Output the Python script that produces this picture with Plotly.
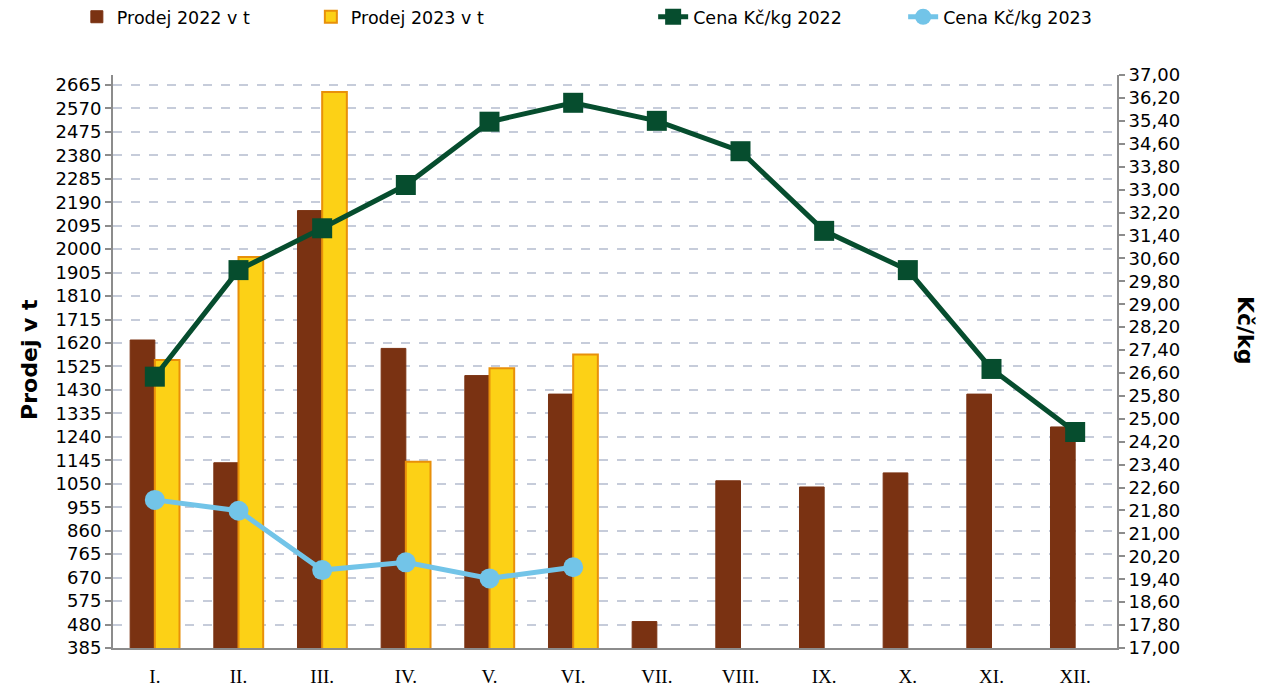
import plotly.graph_objects as go

months = ["I.", "II.", "III.", "IV.", "V.", "VI.", "VII.", "VIII.", "IX.", "X.", "XI.", "XII."]
prodej_2022 = [1632, 1135, 2156, 1598, 1488, 1413, 492, 1062, 1037, 1094, 1413, 1280]
prodej_2023 = [1551, 1968, 2636, 1139, 1518, 1573]
cena_2022 = [26.47, 30.19, 31.65, 33.16, 35.37, 36.03, 35.40, 34.34, 31.56, 30.19, 26.74, 24.54]
cena_2023 = [22.17, 21.79, 19.72, 19.99, 19.43, 19.82]

font_main = "DejaVu Sans, Verdana, sans-serif"

fig = go.Figure()
fig.add_trace(go.Bar(
    x=months, y=prodej_2022, name="Prodej 2022 v t",
    marker=dict(color="#7A3212", line=dict(color="#7A3212", width=1)),
    yaxis="y", legend="legend"))
fig.add_trace(go.Bar(
    x=months[:len(prodej_2023)], y=prodej_2023, name="Prodej 2023 v t",
    marker=dict(color="#FCD116", line=dict(color="#E8900A", width=2)),
    yaxis="y", legend="legend"))
fig.add_trace(go.Scatter(
    x=months, y=cena_2022, name="Cena Kč/kg 2022", mode="lines+markers",
    line=dict(color="#064D2E", width=5),
    marker=dict(symbol="square", size=20, color="#064D2E"),
    yaxis="y2", legend="legend2"))
fig.add_trace(go.Scatter(
    x=months[:len(cena_2023)], y=cena_2023, name="Cena Kč/kg 2023", mode="lines+markers",
    line=dict(color="#72C4E8", width=5),
    marker=dict(symbol="circle", size=20, color="#72C4E8"),
    yaxis="y2", legend="legend2"))

leg_common = dict(orientation="h", yref="container", y=0.987, yanchor="middle",
                  xanchor="left", font=dict(size=17.5, family=font_main),
                  traceorder="normal", entrywidthmode="pixels",
                  bgcolor="rgba(0,0,0,0)")

fig.update_layout(
    width=1258, height=682,
    margin=dict(l=105, r=149, t=67, b=42, autoexpand=False),
    paper_bgcolor="white", plot_bgcolor="white",
    separators=", ",
    barmode="group", bargap=0.41, bargroupgap=0,
    font=dict(family=font_main, size=17, color="black"),
    showlegend=True,
    legend=dict(leg_common, x=-0.036, entrywidth=189),
    legend2=dict(leg_common, x=0.538, entrywidth=205),
    xaxis=dict(
        type="category", showline=True, linecolor="#8C8C8C", linewidth=2,
        ticks="", showgrid=False, ticklabelstandoff=10,
        tickfont=dict(family="Liberation Serif, Times New Roman, serif", size=19),
        range=[-0.5, 11.5]),
    yaxis=dict(
        range=[385, 2705], tick0=385, dtick=95, showline=True,
        linecolor="#8C8C8C", linewidth=2, ticks="outside", ticklen=6,
        tickcolor="#8C8C8C", tickwidth=2,
        showgrid=True, gridcolor="#C6CCDA", gridwidth=2, griddash="dash",
        zeroline=False, tickfont=dict(size=18)),
    yaxis2=dict(
        range=[17, 37], tick0=17, dtick=0.8, overlaying="y", side="right",
        showline=True, linecolor="#8C8C8C", linewidth=2, ticks="outside",
        ticklen=6, tickcolor="#8C8C8C", tickwidth=2, showgrid=False,
        zeroline=False, tickformat=".2f", tickfont=dict(size=18)),
)

fig.add_annotation(text="<b>Prodej v t</b>", xref="paper", yref="paper",
                   x=-0.083, y=0.504, textangle=-90, showarrow=False,
                   font=dict(size=22, family=font_main), xanchor="center", yanchor="middle")
fig.add_annotation(text="<b>Kč/kg</b>", xref="paper", yref="paper",
                   x=1.1275, y=0.555, textangle=90, showarrow=False,
                   font=dict(size=22, family=font_main), xanchor="center", yanchor="middle")

fig.write_html("out.html")
